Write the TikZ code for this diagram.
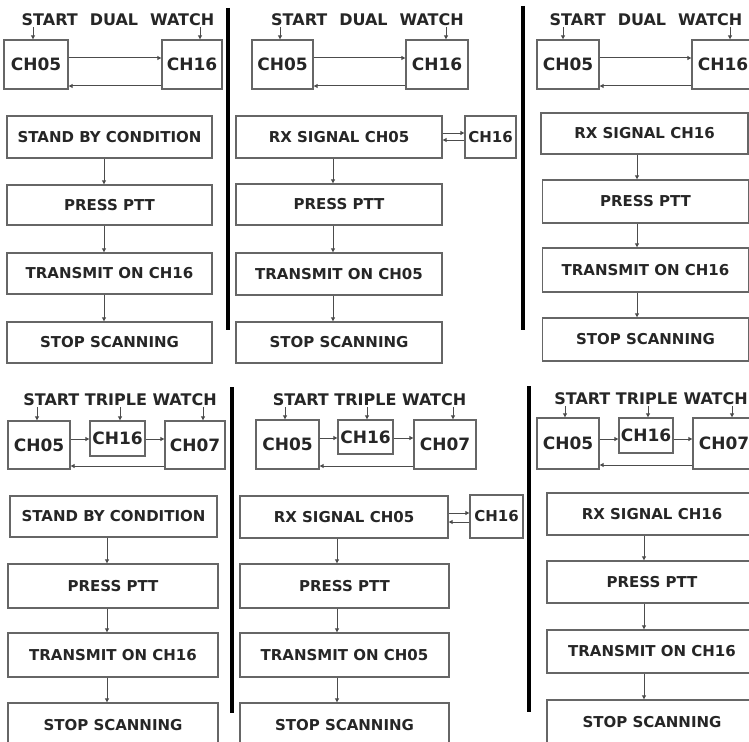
\documentclass[tikz,border=0pt]{standalone}
\usepackage{fontspec}
\setmainfont{DejaVu Sans}
\usetikzlibrary{arrows.meta}
\tikzset{
  box/.style={draw=black!60, line width=1.4pt, fill=white, inner sep=0pt,
    text=black!85, font=\bfseries\fontsize{15}{15}\selectfont},
  chbox/.style={box, font=\bfseries\fontsize{17}{17}\selectfont},
  smallch/.style={box, font=\bfseries\fontsize{15}{15}\selectfont},
  hdr/.style={inner sep=1pt, text=black!85, font=\bfseries\fontsize{16}{16}\selectfont},
  arr/.style={draw=black!70, line width=1pt, -{Triangle[length=4pt,width=4pt]}},
  divider/.style={line width=3.5pt, black}
}
\begin{document}
\begin{tikzpicture}[x=1pt,y=-1pt]
\useasboundingbox (0,0) rectangle (749,741);
\clip (0,0) rectangle (749,741);
\fill[white] (0,0) rectangle (749,741);

% dividers
\draw[divider] (228,8) -- (228,330);
\draw[divider] (523,6) -- (523,330);
\draw[divider] (232,387) -- (232,713);
\draw[divider] (529,386) -- (529,712);

% ---------- Panel 1 ----------
\node[hdr] (hdr1) at (118,20) {START\hspace{12pt}DUAL\hspace{12pt}WATCH};
\node[chbox, minimum width=64, minimum height=49] (a1) at (36,64.5) {CH05};
\node[chbox, minimum width=60, minimum height=49] (b1) at (192,64.5) {CH16};
\node[box, minimum width=205, minimum height=42] (s1) at (109.5,137) {STAND BY CONDITION};
\node[box, minimum width=205, minimum height=40] (p1) at (109.5,205) {PRESS PTT};
\node[box, minimum width=205, minimum height=41] (t1) at (109.5,273.5) {TRANSMIT ON CH16};
\node[box, minimum width=205, minimum height=41] (x1) at (109.5,342.5) {STOP SCANNING};
\draw[arr] (hdr1.south -| 33,0) -- (a1.north -| 33,0);
\draw[arr] (hdr1.south -| 200,0) -- (b1.north -| 200,0);
\draw[arr] (a1.east |- 0,58) -- (b1.west |- 0,58);
\draw[arr] (b1.west |- 0,86) -- (a1.east |- 0,86);
\draw[arr] (s1.south -| 104,0) -- (p1.north -| 104,0);
\draw[arr] (p1.south -| 104,0) -- (t1.north -| 104,0);
\draw[arr] (t1.south -| 104,0) -- (x1.north -| 104,0);

% ---------- Panel 2 ----------
\node[hdr] (hdr2) at (367.5,20) {START\hspace{12pt}DUAL\hspace{12pt}WATCH};
\node[chbox, minimum width=61, minimum height=49] (a2) at (282.5,64.5) {CH05};
\node[chbox, minimum width=62, minimum height=49] (b2) at (437,64.5) {CH16};
\node[box, minimum width=206, minimum height=42] (r2) at (339,137) {RX SIGNAL CH05};
\node[smallch, minimum width=51, minimum height=42] (c2) at (490.5,137) {CH16};
\node[box, minimum width=206, minimum height=41] (p2) at (339,204.5) {PRESS PTT};
\node[box, minimum width=206, minimum height=42] (t2) at (339,274) {TRANSMIT ON CH05};
\node[box, minimum width=206, minimum height=41] (x2) at (339,342.5) {STOP SCANNING};
\draw[arr] (hdr2.south -| 280,0) -- (a2.north -| 280,0);
\draw[arr] (hdr2.south -| 446,0) -- (b2.north -| 446,0);
\draw[arr] (a2.east |- 0,58) -- (b2.west |- 0,58);
\draw[arr] (b2.west |- 0,86) -- (a2.east |- 0,86);
\draw[arr] (r2.east |- 0,133) -- (c2.west |- 0,133);
\draw[arr] (c2.west |- 0,140) -- (r2.east |- 0,140);
\draw[arr] (r2.south -| 333,0) -- (p2.north -| 333,0);
\draw[arr] (p2.south -| 333,0) -- (t2.north -| 333,0);
\draw[arr] (t2.south -| 333,0) -- (x2.north -| 333,0);

% ---------- Panel 3 ----------
\node[hdr] (hdr3) at (646,20) {START\hspace{12pt}DUAL\hspace{12pt}WATCH};
\node[chbox, minimum width=62, minimum height=49] (a3) at (568,64.5) {CH05};
\node[chbox, minimum width=62, minimum height=49] (b3) at (723,64.5) {CH16};
\node[box, minimum width=207, minimum height=41] (r3) at (644.5,133.5) {RX SIGNAL CH16};
\node[box, minimum width=206, minimum height=43] (p3) at (645.5,201.5) {PRESS PTT};
\node[box, minimum width=206, minimum height=44] (t3) at (645.5,270) {TRANSMIT ON CH16};
\node[box, minimum width=206, minimum height=43] (x3) at (645.5,339.5) {STOP SCANNING};
\draw[arr] (hdr3.south -| 563,0) -- (a3.north -| 563,0);
\draw[arr] (hdr3.south -| 730,0) -- (b3.north -| 730,0);
\draw[arr] (a3.east |- 0,58) -- (b3.west |- 0,58);
\draw[arr] (b3.west |- 0,86) -- (a3.east |- 0,86);
\draw[arr] (r3.south -| 637,0) -- (p3.north -| 637,0);
\draw[arr] (p3.south -| 637,0) -- (t3.north -| 637,0);
\draw[arr] (t3.south -| 637,0) -- (x3.north -| 637,0);

% ---------- Panel 4 ----------
\node[hdr] (hdr4) at (120,400) {START TRIPLE WATCH};
\node[chbox, minimum width=62, minimum height=48] (a4) at (39,445) {CH05};
\node[chbox, minimum width=55, minimum height=35] (b4) at (117.5,438.5) {CH16};
\node[chbox, minimum width=60, minimum height=48] (c4) at (195,445) {CH07};
\node[box, minimum width=207, minimum height=41] (s4) at (113.5,516.5) {STAND BY CONDITION};
\node[box, minimum width=210, minimum height=44] (p4) at (113,586) {PRESS PTT};
\node[box, minimum width=210, minimum height=44] (t4) at (113,655) {TRANSMIT ON CH16};
\node[box, minimum width=210, minimum height=45] (x4) at (113,725.5) {STOP SCANNING};
\draw[arr] (hdr4.south -| 37,0) -- (a4.north -| 37,0);
\draw[arr] (hdr4.south -| 120,0) -- (b4.north -| 120,0);
\draw[arr] (hdr4.south -| 203,0) -- (c4.north -| 203,0);
\draw[arr] (a4.east |- 0,439) -- (b4.west |- 0,439);
\draw[arr] (b4.east |- 0,439) -- (c4.west |- 0,439);
\draw[arr] (c4.west |- 0,466) -- (a4.east |- 0,466);
\draw[arr] (s4.south -| 107,0) -- (p4.north -| 107,0);
\draw[arr] (p4.south -| 107,0) -- (t4.north -| 107,0);
\draw[arr] (t4.south -| 107,0) -- (x4.north -| 107,0);

% ---------- Panel 5 ----------
\node[hdr] (hdr5) at (369.5,400) {START TRIPLE WATCH};
\node[chbox, minimum width=63, minimum height=49] (a5) at (287.5,444.5) {CH05};
\node[chbox, minimum width=55, minimum height=34] (b5) at (365.5,437) {CH16};
\node[chbox, minimum width=62, minimum height=49] (c5) at (445,444.5) {CH07};
\node[box, minimum width=208, minimum height=42] (r5) at (344,517) {RX SIGNAL CH05};
\node[smallch, minimum width=53, minimum height=43] (d5) at (496.5,516.5) {CH16};
\node[box, minimum width=209, minimum height=44] (p5) at (344.5,586) {PRESS PTT};
\node[box, minimum width=209, minimum height=44] (t5) at (344.5,655) {TRANSMIT ON CH05};
\node[box, minimum width=209, minimum height=45] (x5) at (344.5,725.5) {STOP SCANNING};
\draw[arr] (hdr5.south -| 285,0) -- (a5.north -| 285,0);
\draw[arr] (hdr5.south -| 367,0) -- (b5.north -| 367,0);
\draw[arr] (hdr5.south -| 453,0) -- (c5.north -| 453,0);
\draw[arr] (a5.east |- 0,438) -- (b5.west |- 0,438);
\draw[arr] (b5.east |- 0,438) -- (c5.west |- 0,438);
\draw[arr] (c5.west |- 0,466) -- (a5.east |- 0,466);
\draw[arr] (r5.east |- 0,513) -- (d5.west |- 0,513);
\draw[arr] (d5.west |- 0,522) -- (r5.east |- 0,522);
\draw[arr] (r5.south -| 337,0) -- (p5.north -| 337,0);
\draw[arr] (p5.south -| 337,0) -- (t5.north -| 337,0);
\draw[arr] (t5.south -| 337,0) -- (x5.north -| 337,0);

% ---------- Panel 6 ----------
\node[hdr] (hdr6) at (651,399) {START TRIPLE WATCH};
\node[chbox, minimum width=62, minimum height=51] (a6) at (568,443.5) {CH05};
\node[chbox, minimum width=54, minimum height=35] (b6) at (646,435.5) {CH16};
\node[chbox, minimum width=62, minimum height=51] (c6) at (724,443.5) {CH07};
\node[box, minimum width=210, minimum height=42] (r6) at (652,514) {RX SIGNAL CH16};
\node[box, minimum width=210, minimum height=42] (p6) at (652,582) {PRESS PTT};
\node[box, minimum width=210, minimum height=43] (t6) at (652,651.5) {TRANSMIT ON CH16};
\node[box, minimum width=210, minimum height=45] (x6) at (652,722.5) {STOP SCANNING};
\draw[arr] (hdr6.south -| 565,0) -- (a6.north -| 565,0);
\draw[arr] (hdr6.south -| 648,0) -- (b6.north -| 648,0);
\draw[arr] (hdr6.south -| 732,0) -- (c6.north -| 732,0);
\draw[arr] (a6.east |- 0,439) -- (b6.west |- 0,439);
\draw[arr] (b6.east |- 0,439) -- (c6.west |- 0,439);
\draw[arr] (c6.west |- 0,465) -- (a6.east |- 0,465);
\draw[arr] (r6.south -| 644,0) -- (p6.north -| 644,0);
\draw[arr] (p6.south -| 644,0) -- (t6.north -| 644,0);
\draw[arr] (t6.south -| 644,0) -- (x6.north -| 644,0);
\end{tikzpicture}
\end{document}
